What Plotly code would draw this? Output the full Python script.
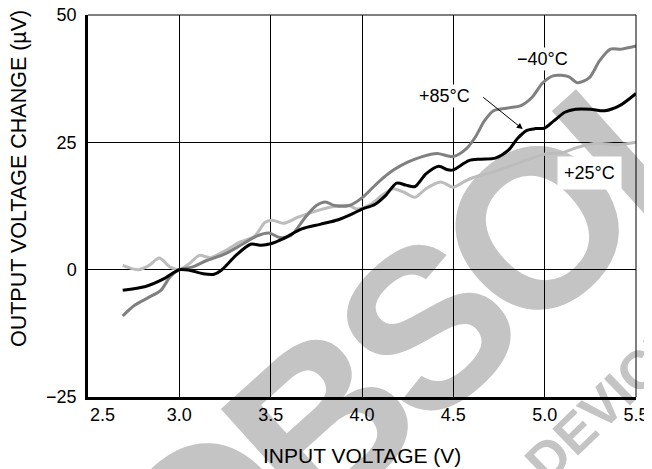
import math
import plotly.graph_objects as go

# +85°C (black)
x85 = [2.69, 2.815, 2.914, 3.0, 3.054, 3.13, 3.19, 3.23, 3.31, 3.39, 3.45, 3.5, 3.57, 3.67, 3.77, 3.87,
       3.95, 4.0, 4.07, 4.13, 4.19, 4.24, 4.29, 4.35, 4.42, 4.47, 4.5, 4.585, 4.65, 4.73, 4.80, 4.85,
       4.90, 4.95, 5.0, 5.05, 5.11, 5.17, 5.25, 5.33, 5.41, 5.5]
y85 = [-4.05, -3.3, -1.8, 0.0, -0.1, -0.8, -0.9, -0.1, 2.8, 5.0, 4.8, 5.1, 6.1, 8.0, 8.9, 9.8,
       11.0, 11.9, 12.8, 14.6, 17.0, 16.6, 16.3, 18.8, 20.3, 19.6, 19.6, 21.4, 21.7, 21.9, 23.4, 25.7,
       27.3, 27.7, 27.8, 29.2, 30.9, 31.5, 31.5, 31.2, 32.2, 34.6]

# -40°C (dark grey)
xm40 = [2.69, 2.755, 2.835, 2.90, 2.95, 3.0, 3.07, 3.15, 3.25, 3.35, 3.43, 3.49, 3.55, 3.61, 3.69, 3.75,
        3.80, 3.85, 3.93, 4.0, 4.09, 4.17, 4.25, 4.33, 4.41, 4.5, 4.57, 4.62, 4.67, 4.72, 4.79, 4.87,
        4.93, 4.99, 5.05, 5.13, 5.18, 5.245, 5.30, 5.36, 5.42, 5.5]
ym40 = [-9.1, -7.0, -5.4, -4.0, -1.4, 0.0, 0.5, 1.8, 3.1, 5.1, 6.7, 7.2, 6.3, 6.7, 10.3, 12.6,
        13.3, 12.6, 12.6, 14.1, 17.2, 19.5, 21.1, 22.2, 22.8, 22.2, 23.7, 26.0, 29.2, 31.2, 31.7, 32.2,
        33.8, 36.7, 38.1, 37.9, 36.7, 37.7, 41.0, 43.3, 43.3, 43.9]

# +25°C (light grey)
x25 = [2.69, 2.775, 2.835, 2.89, 2.95, 3.0, 3.055, 3.11, 3.17, 3.25, 3.33, 3.41, 3.47, 3.51, 3.57, 3.65,
       3.73, 3.83, 3.93, 3.97, 4.05, 4.11, 4.17, 4.23, 4.29, 4.35, 4.43, 4.5, 4.57, 4.61, 4.70, 4.80,
       4.90, 5.005, 5.10, 5.18, 5.28, 5.40, 5.5]
y25 = [0.85, 0.0, 0.85, 2.3, 0.5, 0.0, 1.2, 2.8, 2.35, 3.7, 5.4, 6.5, 9.3, 9.7, 9.1, 10.3,
       11.3, 12.3, 12.6, 11.9, 12.9, 14.6, 15.9, 15.2, 14.2, 15.9, 17.2, 16.2, 17.5, 18.1, 19.0, 20.2,
       21.5, 22.7, 23.0, 24.0, 24.8, 24.5, 25.0]

x_ticks = [3.0, 3.5, 4.0, 4.5, 5.0, 5.5]
x_first_tick = "2.5"
y_ticks = [-25, 0, 25, 50]

# watermark letters
wm_letters = ["O", "B", "S", "O", "L"]

FONT = "Liberation Sans, Arial, sans-serif"
WM = "#c4c4c4"

# plot area in page pixels (page has an 8px body margin around the figure)
PX0, PX1, PY0, PY1 = 88, 636, 15, 397


def paper_x(px):
    return (px - PX0) / (PX1 - PX0)


def paper_y(py):
    return (PY1 - py) / (PY1 - PY0)


fig = go.Figure()
fig.add_trace(go.Scatter(x=x25, y=y25, mode="lines", line=dict(color="#bcbcbc", width=3, shape="spline", smoothing=0.8), showlegend=False))
fig.add_trace(go.Scatter(x=xm40, y=ym40, mode="lines", line=dict(color="#808080", width=3, shape="spline", smoothing=0.8), showlegend=False))
fig.add_trace(go.Scatter(x=x85, y=y85, mode="lines", line=dict(color="#000000", width=3, shape="spline", smoothing=0.8), showlegend=False))

# watermark letters laid out along a -42 degree baseline (drawn beneath the grid)
WM_SIZE = 225      # glyph size
WM_PITCH = 205     # letter spacing scale
ang = math.radians(42)
ux, uy = math.cos(ang), -math.sin(ang)
adv = {"O": 0.778, "B": 0.722, "S": 0.667, "L": 0.611}
cx, cy = 523.3, 211.8  # centre of the second "O" (compensating text baseline offset)
centers = []
run = 0.0
for ch in wm_letters:
    centers.append(run + adv[ch] / 2)
    run += adv[ch]
ref_c = centers[3]
for ch, c in zip(wm_letters, centers):
    d = (c - ref_c) * WM_PITCH
    px, py = cx + d * ux, cy + d * uy
    fx, fy = paper_x(px), paper_y(py)
    fig.add_shape(type="rect", xref="paper", yref="paper", x0=fx - 0.01, x1=fx + 0.01, y0=fy - 0.01, y1=fy + 0.01,
                  line=dict(width=0), fillcolor="rgba(0,0,0,0)", layer="below",
                  label=dict(text=ch, textangle=-42, textposition="middle center",
                             font=dict(family=FONT, size=WM_SIZE, color=WM, weight="bold")))

dx, dy = paper_x(603), paper_y(398)
fig.add_shape(type="rect", xref="paper", yref="paper", x0=dx - 0.01, x1=dx + 0.01, y0=dy - 0.01, y1=dy + 0.01,
              line=dict(width=0), fillcolor="rgba(0,0,0,0)", layer="below",
              label=dict(text="DEVICE", textangle=-44, textposition="middle center",
                         font=dict(family=FONT, size=54, color=WM, weight="bold")))

# top and right borders
fig.add_shape(type="line", xref="paper", yref="paper", x0=0, x1=1, y0=1, y1=1, line=dict(color="black", width=1))
fig.add_shape(type="line", xref="paper", yref="paper", x0=1, x1=1, y0=0, y1=1, line=dict(color="black", width=1))

fig.add_annotation(x=4.99, y=41.4, text="−40°C", showarrow=False, bgcolor="white",
                   font=dict(family=FONT, size=18, color="black"))
fig.add_annotation(x=4.454, y=34.1, text="+85°C", showarrow=False, bgcolor="white",
                   font=dict(family=FONT, size=18, color="black"))
fig.add_annotation(x=4.88, y=27.6, text="", showarrow=True, ax=-41, ay=-33,
                   arrowhead=2, arrowsize=1.2, arrowwidth=1, arrowcolor="black")
fig.add_annotation(x=5.248, y=19.0, text="+25°C", showarrow=False, bgcolor="white", borderpad=6,
                   font=dict(family=FONT, size=18, color="black"))

# first x tick label, nudged right of the axis corner
fig.add_annotation(xref="paper", yref="paper", x=0.0, y=-0.015, text=x_first_tick, showarrow=False,
                   xanchor="left", yanchor="top", font=dict(family=FONT, size=18, color="black"))

fig.add_annotation(xref="paper", yref="paper", x=-0.126, y=0.573, text="OUTPUT VOLTAGE CHANGE (µV)",
                   textangle=-90, showarrow=False, xanchor="center", yanchor="middle",
                   font=dict(family=FONT, size=21.5, color="black"))
fig.add_annotation(xref="paper", yref="paper", x=0.5, y=-0.152, text="INPUT VOLTAGE (V)",
                   showarrow=False, xanchor="center", yanchor="middle",
                   font=dict(family=FONT, size=21, color="black"))

fig.update_layout(
    width=644, height=461,
    margin=dict(l=80, r=16, t=7, b=72, autoexpand=False),
    paper_bgcolor="white", plot_bgcolor="rgba(0,0,0,0)",
    font=dict(family=FONT, color="black"),
    xaxis=dict(range=[2.5, 5.5], tickvals=x_ticks, tickformat=".1f", showgrid=True, gridcolor="black",
               gridwidth=1, zeroline=False, showline=True, linecolor="black", linewidth=2.5,
               ticks="", tickfont=dict(size=18), ticklabelstandoff=0, automargin=False,
               ticklabeloverflow="allow"),
    yaxis=dict(range=[-25, 50], tickvals=y_ticks, showgrid=True, gridcolor="black", gridwidth=1,
               zeroline=False, showline=True, linecolor="black", linewidth=2.5, ticks="",
               tickfont=dict(size=18), ticklabelstandoff=5, automargin=False,
               ticklabeloverflow="allow"),
)

fig.write_html("out.html")
